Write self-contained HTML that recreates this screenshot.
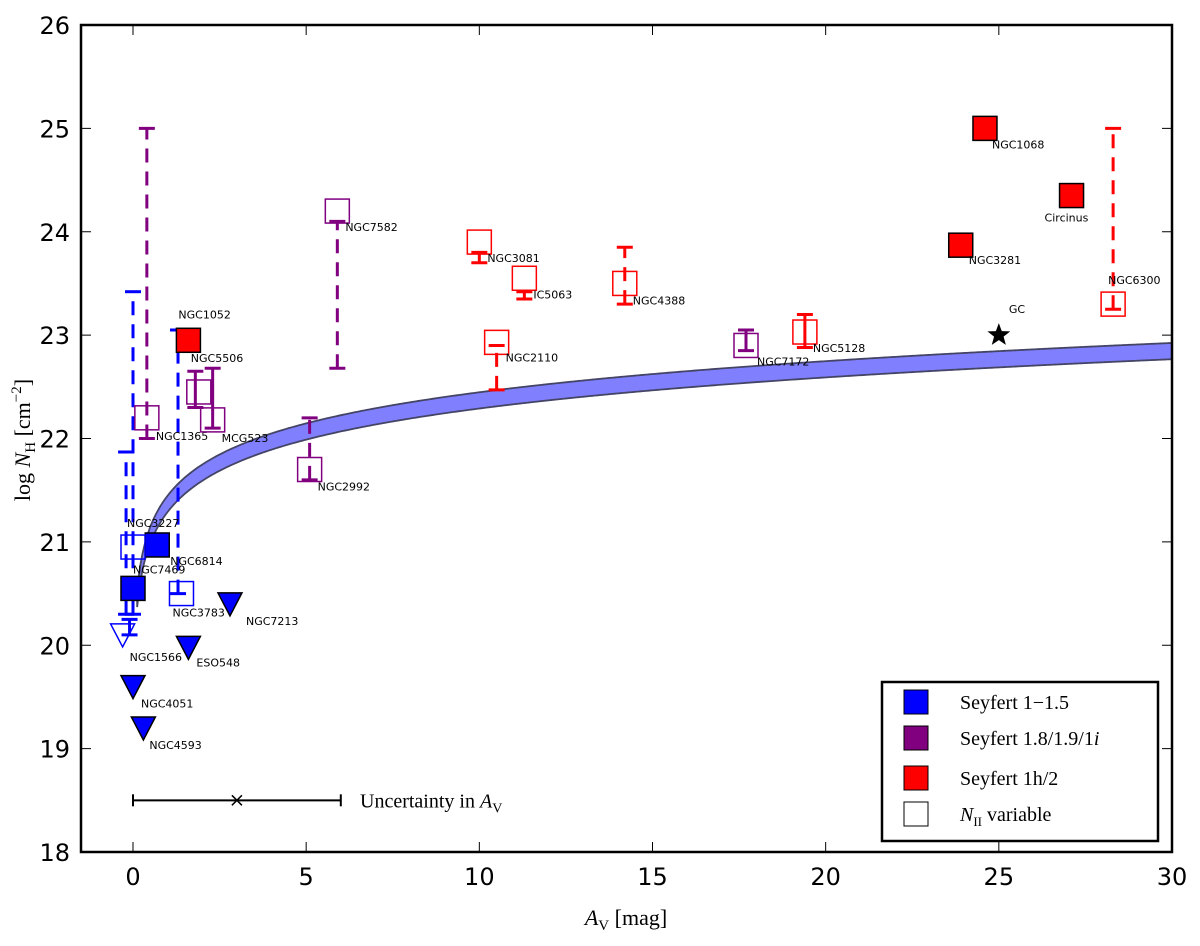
<!DOCTYPE html>
<html><head><meta charset="utf-8"><style>
body{margin:0;background:#fff;}
svg text{font-family:"DejaVu Sans","Liberation Sans",sans-serif;}
.serif{font-family:"Liberation Serif","DejaVu Serif",serif;}
</style></head><body>
<svg id="chart" width="1200" height="941" viewBox="0 0 1200 941" xmlns="http://www.w3.org/2000/svg">
<rect x="0" y="0" width="1200" height="941" fill="#fff"/>
<g id="plot"></g>
</svg>
<script>
const xTicks=[0,5,10,15,20,25,30];
const yTicks=[18,19,20,21,22,23,24,25,26];
const ptNames=["NGC7469","NGC6814","NGC3227","NGC3783","NGC1566","NGC4051","NGC4593","ESO548","NGC7213","NGC1052","NGC1068","Circinus","NGC3281","NGC3081","IC5063","NGC4388","NGC2110","NGC5128","NGC6300","NGC1365","NGC5506","MCG523","NGC7582","NGC2992","NGC7172"];
const ptAv=[0.0,0.7,0.0,1.4,-0.3,0.0,0.3,1.6,2.8,1.6,24.6,27.1,23.9,10.0,11.3,14.2,10.5,19.4,28.3,0.4,1.9,2.3,5.9,5.1,17.7];
const ptNH=[20.55,20.97,20.95,20.5,20.1,19.6,19.2,19.98,20.4,22.95,25.0,24.35,23.87,23.9,23.55,23.5,22.93,23.03,23.3,22.2,22.45,22.18,24.2,21.7,22.9];
const ptType=["s1","s1","s1","s1","s1","s1","s1","s1","s1","s2","s2","s2","s2","s2","s2","s2","s2","s2","s2","s18","s18","s18","s18","s18","s18"];
const ptMarker=["sq","sq","sq","sq","tri","tri","tri","tri","tri","sq","sq","sq","sq","sq","sq","sq","sq","sq","sq","sq","sq","sq","sq","sq","sq"];
const ptFilled=[1,1,0,0,0,1,1,1,1,1,1,1,1,0,0,0,0,0,0,0,0,0,0,0,0];
const lblDx=[0,13,-6,-9,7,8,6,8,16,-10,7,-27,8,8,9,8,9,8,-5,9,-8,9,8,8,11];
const lblDy=[-15,20,-20,23,26,21,21,19,21,-22,20,26,19,20,20,21,19,20,-20,22,-30,22,20,21,20];
const ebAv=[0.0,-0.2,1.3,0.4,1.8,2.3,5.9,5.1,28.3,10.0,11.3,14.2,10.5,19.4,17.7,-0.1];
const ebLo=[20.3,20.3,20.5,22.0,22.3,22.1,22.68,21.6,23.25,23.7,23.35,23.3,22.47,22.88,22.85,20.1];
const ebHi=[23.42,21.87,23.05,25.0,22.65,22.68,24.1,22.2,25.0,23.8,23.42,23.85,22.9,23.2,23.05,20.25];
const ebType=["s1","s1","s1","s18","s18","s18","s18","s18","s2","s2","s2","s2","s2","s2","s18","s1"];
const ebDash=[1,1,1,1,0,0,1,1,1,0,0,1,1,0,0,0];
const colors={s1:"#0000ff",s18:"#800080",s2:"#ff0000"};
const X0=133,XS=34.633,Y0=25,YS=103.375;
const xs=v=>X0+v*XS, ys=v=>Y0+(26-v)*YS;
const NS="http://www.w3.org/2000/svg";
const plot=document.getElementById('plot');
function mk(tag,attrs,parent){const e=document.createElementNS(NS,tag);for(const k in attrs)e.setAttribute(k,attrs[k]);(parent||plot).appendChild(e);return e;}
let bandTop=[],bandBot=[];
for(let a=0.12;a<=30.5;a+=0.05){bandTop.push([xs(a),ys(Math.log10(2.8e21*a))]);bandBot.push([xs(a),ys(Math.log10(1.95e21*a))]);}
const clipR=mk('clipPath',{id:'clip'});mk('rect',{x:81,y:25,width:1091,height:827},clipR);
const band=mk('path',{d:'M'+bandTop.map(p=>p.join(',')).join('L')+'L'+bandBot.reverse().map(p=>p.join(',')).join('L')+'Z',fill:'#8080ff',stroke:'#444466','stroke-width':1.8,'clip-path':'url(#clip)'});


ebAv.forEach((a,i)=>{const g=mk('g',{});


const c=colors[ebType[i]],x=xs(a);
mk('line',{x1:x,x2:x,y1:ys(ebLo[i]),y2:ys(ebHi[i]),stroke:c,'stroke-width':3,'stroke-dasharray':ebDash[i]?'14,9':'none'},g);
[ebLo[i],ebHi[i]].forEach(v=>mk('line',{x1:x-8,x2:x+8,y1:ys(v),y2:ys(v),stroke:c,'stroke-width':3},g));});
ptNames.forEach((n,i)=>{const c=colors[ptType[i]],x=xs(ptAv[i]),y=ys(ptNH[i]);
let m;
if(ptMarker[i]=="sq"){m=mk('rect',{x:x-12,y:y-12,width:24,height:24,fill:ptFilled[i]?c:'none',stroke:ptFilled[i]?'#000':c,'stroke-width':1.5});}
else{m=mk('path',{d:`M${x-12},${y-11}L${x+12},${y-11}L${x},${y+12}Z`,fill:ptFilled[i]?c:'none',stroke:ptFilled[i]?'#000':c,'stroke-width':1.5});}


const t=mk('text',{x:x+lblDx[i],y:y+lblDy[i],'font-size':11,fill:'#000'});t.textContent=n;

});
(function(){const cx=xs(25),cy=ys(23);let d='';for(let k=0;k<10;k++){const r=k%2?5:12,an=-Math.PI/2+k*Math.PI/5;d+=(k?'L':'M')+(cx+r*Math.cos(an))+','+(cy+r*Math.sin(an));}
const s=mk('path',{d:d+'Z',fill:'#000'});
const t=mk('text',{x:cx+10,y:cy-22,'font-size':11});t.textContent='GC';})();
(function(){const g=mk('g',{});
const y=ys(18.5);mk('line',{x1:xs(0),x2:xs(6),y1:y,y2:y,stroke:'#000','stroke-width':2},g);
[0,6].forEach(v=>mk('line',{x1:xs(v),x2:xs(v),y1:y-6,y2:y+6,stroke:'#000','stroke-width':2},g));
mk('path',{d:`M${xs(3)-5},${y-5}L${xs(3)+5},${y+5}M${xs(3)-5},${y+5}L${xs(3)+5},${y-5}`,stroke:'#000','stroke-width':1.5},g);
const t=mk('text',{x:360,y:y+7,'font-size':20,class:'serif'},g);t.innerHTML='Uncertainty in <tspan font-style="italic">A</tspan><tspan font-size="14" dy="5">V</tspan>';})();
const fr=mk('rect',{x:81,y:25,width:1091,height:827,fill:'none',stroke:'#000','stroke-width':2.5});

xTicks.forEach(v=>{const x=xs(v);mk('line',{x1:x,x2:x,y1:852,y2:842,stroke:'#000','stroke-width':1});mk('line',{x1:x,x2:x,y1:25,y2:35,stroke:'#000','stroke-width':1});
const t=mk('text',{x:x,y:885,'font-size':24,'text-anchor':'middle'});t.textContent=v;});
yTicks.forEach(v=>{const y=ys(v);mk('line',{x1:81,x2:91,y1:y,y2:y,stroke:'#000'});mk('line',{x1:1162,x2:1172,y1:y,y2:y,stroke:'#000'});
const t=mk('text',{x:70,y:y+9,'font-size':24,'text-anchor':'end'});t.textContent=v;});
const xt=mk('text',{x:626,y:925,'font-size':22,'text-anchor':'middle',class:'serif'});xt.innerHTML='<tspan font-style="italic">A</tspan><tspan font-size="15" dy="5">V</tspan><tspan dy="-5"> [mag]</tspan>';

const yt=mk('text',{x:0,y:0,'font-size':22,'text-anchor':'middle',class:'serif',transform:'translate(30,440) rotate(-90)'});yt.innerHTML='log <tspan font-style="italic">N</tspan><tspan font-size="15" dy="5">H</tspan><tspan dy="-5"> [cm</tspan><tspan font-size="15" dy="-9">−2</tspan><tspan dy="9">]</tspan>';

const lg=mk('g',{});
mk('rect',{x:882,y:682,width:276,height:159,fill:'#fff',stroke:'#000','stroke-width':2.5},lg);
const legFill=["#0000ff","#800080","#ff0000","#fff"];
const legText=["Seyfert 1−1.5","Seyfert 1.8/1.9/1<tspan font-style='italic'>i</tspan>","Seyfert 1h/2","<tspan font-style='italic'>N</tspan><tspan font-size='13' dy='5'>II</tspan><tspan dy='-5'> variable</tspan>"];
const legY=[702,738,778,814];
legFill.forEach((f,i)=>{const e=mk('g',{},lg);
mk('rect',{x:904,y:legY[i]-12,width:24,height:24,fill:f,stroke:'#000','stroke-width':1},e);
const t=mk('text',{x:960,y:legY[i]+7,'font-size':20,class:'serif'},e);t.innerHTML=legText[i];});
</script>
</body></html>
